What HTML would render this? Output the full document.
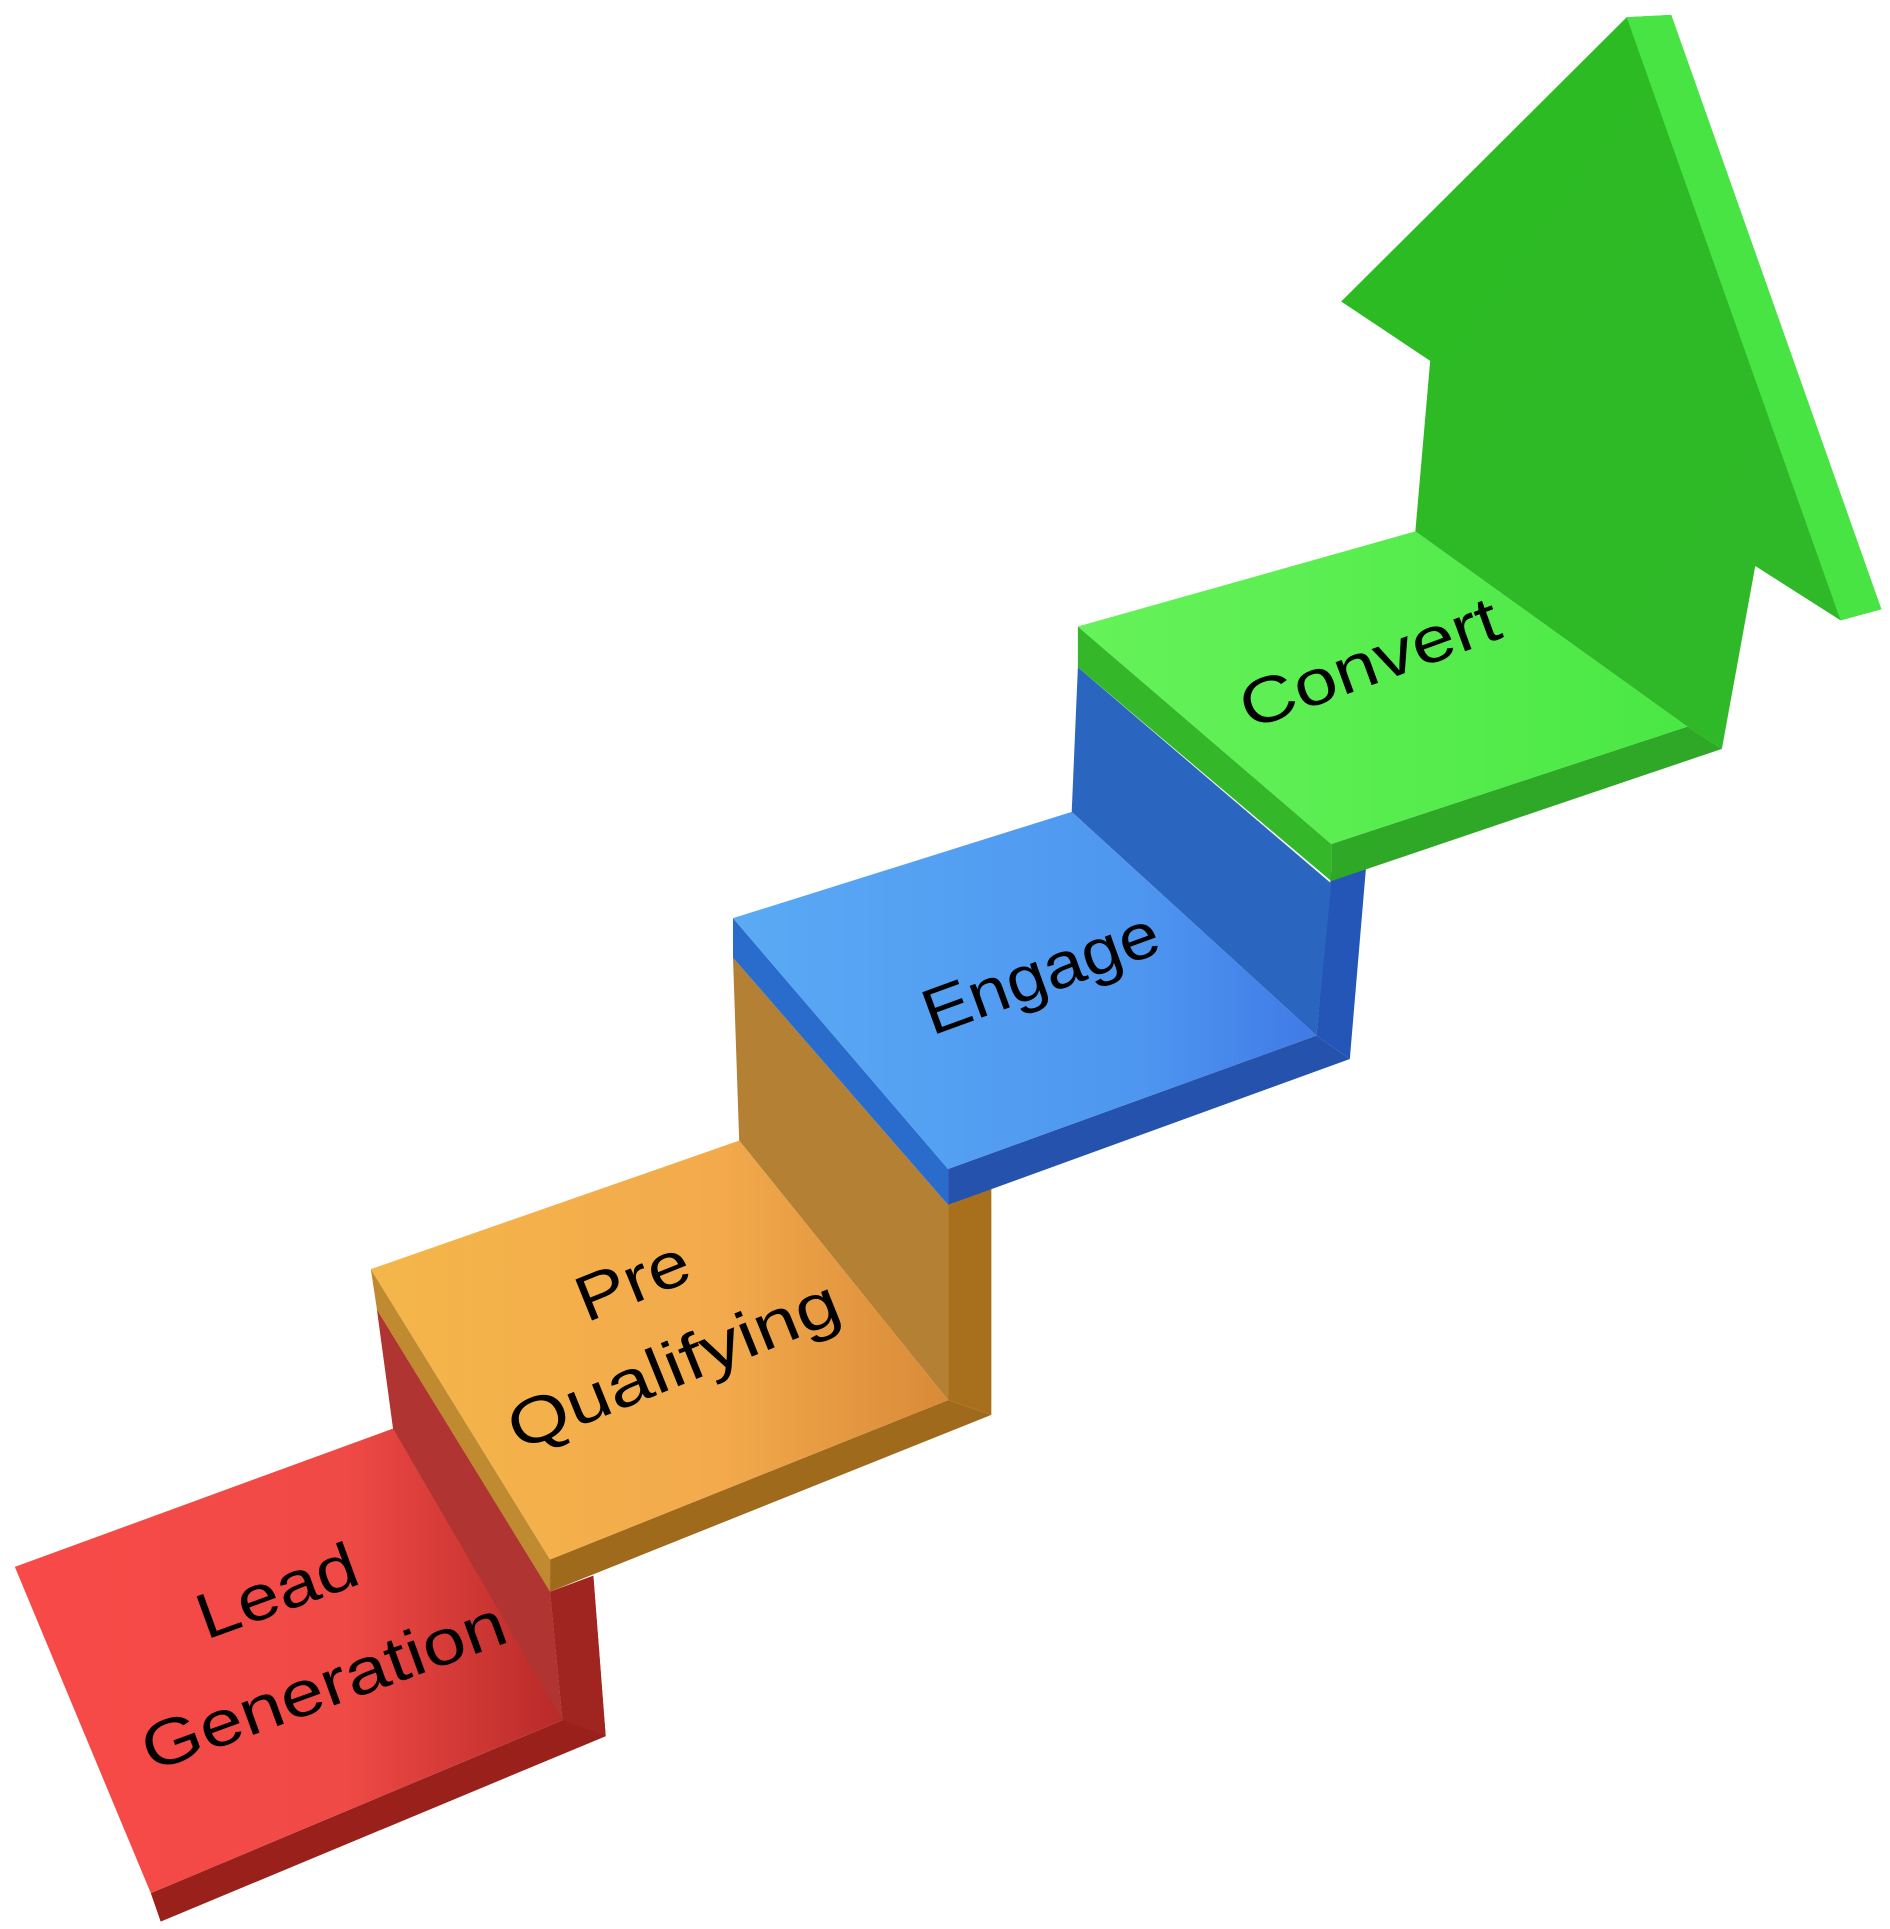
<!DOCTYPE html>
<html><head><meta charset="utf-8"><style>
html,body{margin:0;padding:0;background:#fff;}
svg{display:block;}
text{font-family:"Liberation Sans",sans-serif;fill:#000;}
</style></head><body>
<svg width="1890" height="1929" viewBox="0 0 1529 1561" preserveAspectRatio="none" xmlns="http://www.w3.org/2000/svg">
<defs>
<linearGradient id="rf" x1="0" y1="0" x2="1" y2="0"><stop offset="0" stop-color="#f84a48"/><stop offset="0.6" stop-color="#f04a46"/><stop offset="1" stop-color="#b82a28"/></linearGradient>
<linearGradient id="of" x1="0" y1="0" x2="1" y2="0"><stop offset="0" stop-color="#f4b64a"/><stop offset="0.6" stop-color="#f3aa4c"/><stop offset="1" stop-color="#d98a38"/></linearGradient>
<linearGradient id="bf" x1="0" y1="0" x2="1" y2="0"><stop offset="0" stop-color="#5aaaf4"/><stop offset="0.7" stop-color="#4e96f0"/><stop offset="1" stop-color="#3f7ae6"/></linearGradient>
<linearGradient id="gf" x1="0" y1="0" x2="1" y2="0"><stop offset="0" stop-color="#66f25a"/><stop offset="1" stop-color="#4ae844"/></linearGradient>
<linearGradient id="ga" x1="0" y1="0" x2="1" y2="1"><stop offset="0" stop-color="#2cbc22"/><stop offset="1" stop-color="#30b82a"/></linearGradient>
</defs>
<!-- red -->
<polygon points="122,1532 455,1392 480,1275 490,1405 130,1555" fill="#9a201c"/>
<polygon points="445,1288 480,1275 490,1405 455,1392" fill="#a02420"/>
<polygon points="12,1268 318,1156 305,1060 445,1288 455,1392 122,1532" fill="url(#rf)"/>
<polygon points="318,1156 305,1060 445,1288 455,1392" fill="#b03432"/>
<!-- orange -->
<polygon points="767,975 802,962 802,1145 767,1133" fill="#a8701c"/>
<polygon points="598,923 593,775 767,975 767,1133" fill="#b38034"/>
<polygon points="300,1027 445,1262 445,1288 305,1060" fill="#c08a30"/>
<polygon points="445,1262 767,1133 802,1145 445,1288" fill="#a06a1c"/>
<polygon points="300,1027 598,923 767,1133 445,1262" fill="url(#of)"/>
<!-- blue -->
<polygon points="1065,838 1077,705 1105,703 1092,857" fill="#2456b8"/>
<polygon points="867,657 872,540 1077,715 1065,838" fill="#2a66c0"/>
<polygon points="593,743 767,946 767,975 593,775" fill="#2a6ccc"/>
<polygon points="767,946 1065,838 1092,857 767,975" fill="#2452ac"/>
<polygon points="593,743 867,657 1065,838 767,946" fill="url(#bf)"/>
<!-- green arrow -->
<polygon points="1145,430 1157,292 1085,244 1316,14 1352,12 1522,493 1489,502 1420,458 1393,606 1365,588" fill="url(#ga)"/>
<polygon points="1316,14 1352,12 1522,493 1489,502" fill="#48e444"/>
<polygon points="872,507 1077,683 1077,713 872,540" fill="#34b82a"/>
<polygon points="1077,683 1365,588 1393,606 1077,713" fill="#2ea826"/>
<polygon points="872,507 1145,430 1365,588 1077,683" fill="url(#gf)"/>
<!-- labels -->
<text x="225" y="1305" font-size="52" text-anchor="middle" textLength="135" lengthAdjust="spacingAndGlyphs" transform="rotate(-20 225 1290)">Lead</text>
<text x="262" y="1382" font-size="52" text-anchor="middle" textLength="310" lengthAdjust="spacingAndGlyphs" transform="rotate(-20 262 1365)">Generation</text>
<text x="512" y="1054" font-size="52" text-anchor="middle" textLength="95" lengthAdjust="spacingAndGlyphs" transform="rotate(-22 512 1037)">Pre</text>
<text x="545" y="1122" font-size="52" text-anchor="middle" textLength="285" lengthAdjust="spacingAndGlyphs" transform="rotate(-22 545 1105)">Qualifying</text>
<text x="842" y="805" font-size="52" text-anchor="middle" textLength="200" lengthAdjust="spacingAndGlyphs" transform="rotate(-20 842 788)">Engage</text>
<text x="1108" y="554" font-size="52" text-anchor="middle" textLength="220" lengthAdjust="spacingAndGlyphs" transform="rotate(-20 1108 537)">Convert</text>
</svg>
</body></html>
